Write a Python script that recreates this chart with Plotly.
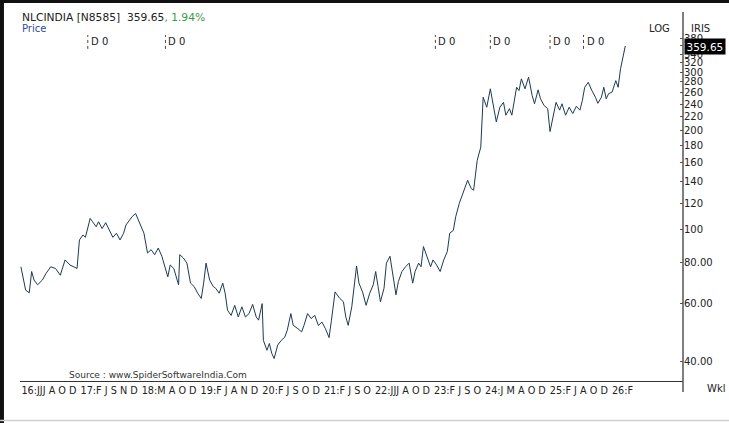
import numpy as np
import pandas as pd
import plotly.graph_objects as go

# ---------------- data ----------------
start_date = "2016-06-03"
weeks = [0, 2, 4, 7, 9, 11, 14, 18, 21, 25, 29, 33, 37, 41, 45, 47, 49, 52, 54, 58,
         60, 63, 65, 68, 71, 74, 77, 80, 83, 86, 88, 91, 93, 96, 99, 103, 106, 109, 112, 115,
         118, 121, 123, 125, 128, 132, 133, 136, 139, 142, 145, 148, 151, 153, 155, 158, 161, 163, 166, 169,
         171, 173, 176, 179, 182, 185, 188, 191, 194, 197, 199, 202, 203, 206, 208, 210, 212, 215, 218, 221,
         223, 226, 228, 232, 235, 237, 240, 243, 246, 249, 252, 255, 258, 260, 262, 263, 267, 270, 272, 274,
         277, 279, 281, 283, 286, 289, 292, 295, 297, 299, 301, 304, 306, 309, 311, 314, 316, 319, 322, 325,
         328, 330, 333, 335, 337, 339, 341, 343, 345, 348, 351, 354, 357, 359, 362, 364, 367, 370, 372, 374,
         377, 379, 382, 385, 387, 390, 393, 396, 398, 401, 404, 406, 409, 411, 415, 417, 419, 422, 425, 428,
         430, 433, 435, 438, 441, 443, 446, 448, 451, 453, 456, 459, 462, 465, 468, 470, 472, 475, 478, 481,
         483, 486, 488, 490, 492, 495, 498, 500, 502, 504, 506]
prices = [77.4, 71.4, 65.8, 64.6, 74.9, 70.6, 68.3, 70.6, 73.9, 77.4, 76.5, 73.0, 81.2, 78.4, 77.4, 76.5, 93.3, 96.6, 95.0, 108.4,
          105.9, 102.3, 105.9, 101.0, 105.2, 99.7, 95.0, 97.8, 93.3, 97.8, 103.5, 107.1, 109.6, 112.2, 105.9, 97.8, 85.2, 87.2, 84.2, 88.2,
          83.3, 76.5, 72.2, 78.4, 76.5, 68.3, 84.2, 82.3, 79.4, 69.1, 67.5, 64.4, 62.1, 69.1, 79.4, 70.6, 67.5, 66.7, 64.4, 69.1,
          64.4, 57.2, 55.2, 59.2, 54.6, 58.6, 54.6, 55.9, 59.6, 54.6, 53.4, 59.9, 46.4, 43.3, 45.4, 42.4, 40.9, 44.9, 46.4, 47.5,
          49.8, 55.9, 51.5, 50.3, 49.2, 51.5, 55.9, 54.0, 55.2, 51.5, 52.7, 50.3, 47.3, 53.4, 61.4, 65.0, 62.1, 60.7, 54.6, 51.5,
          58.6, 67.5, 77.8, 69.1, 65.0, 59.2, 64.4, 68.3, 74.9, 67.5, 60.7, 66.7, 79.4, 83.3, 75.7, 63.7, 69.8, 74.9, 77.4, 79.4,
          69.1, 74.9, 79.4, 77.4, 89.1, 85.2, 81.2, 77.4, 81.2, 78.4, 74.9, 81.2, 86.1, 97.8, 99.7, 109.6, 120.3, 128.9, 133.4, 141.3,
          133.4, 131.9, 162.2, 178.0, 251.8, 234.9, 267.0, 234.9, 212.1, 234.9, 243.0, 222.2, 232.6, 222.2, 269.9, 263.7, 286.2, 267.0, 289.6, 255.1,
          240.6, 265.1, 249.1, 237.8, 232.6, 198.3, 224.8, 243.0, 230.2, 240.6, 222.2, 234.9, 224.8, 236.4, 230.2, 245.8, 269.9, 279.4, 263.7, 251.8,
          241.4, 251.8, 269.9, 249.1, 258.0, 261.1, 282.7, 269.9, 306.9, 332.8, 359.65]

x_tick_weeks = [0, 49.5, 100.7, 150.0, 201.7, 253.3, 296.0, 345.4, 388.1, 442.4, 494.4]
x_tick_labels = ["16:JJJ A O D", "17:F J S N D", "18:M A O D", "19:F J A N D", "20:F J S O D",
                 "21:F J S O", "22:JJJ A O D", "23:F J S O", "24:J M A O D", "25:F J A O D", "26:F"]

y_tick_vals = [40, 60, 80, 100, 120, 140, 160, 180, 200, 220, 240, 260, 280, 300, 320, 340, 360, 380]
y_tick_labels = ["40.00", "60.00", "80.00", "100", "120", "140", "160", "180", "200", "220",
                 "240", "260", "280", "300", "320", "340", "360", "380"]

div_weeks = [56, 121, 347, 393, 443, 471]
div_labels = ["D 0", "D 0", "D 0", "D 0", "D 0", "D 0"]

symbol = "NLCINDIA [N8585]"
last_price = 359.65
change_pct = "1.94%"

# ---------------- figure ----------------
t0 = pd.Timestamp(start_date)
def wk(w):
    return t0 + pd.to_timedelta(np.asarray(w, dtype=float) * 7, unit="D")

dates = wk(weeks)
FONT = "DejaVu Sans"

fig = go.Figure()
fig.add_trace(go.Scatter(x=dates, y=prices, mode="lines",
                         line=dict(color="#1d3a52", width=1), hoverinfo="skip", showlegend=False))

fig.update_layout(
    width=729, height=423,
    margin=dict(l=20, r=46, t=12, b=42, autoexpand=False),
    paper_bgcolor="white", plot_bgcolor="white",
    font=dict(family=FONT, size=10, color="#222"),
    xaxis=dict(type="date", range=list(wk([-0.75, 554.3])), showgrid=False, zeroline=False,
               showline=True, linecolor="#333", linewidth=1, ticks="",
               tickvals=list(wk(x_tick_weeks)), ticktext=x_tick_labels, tickangle=0,
               ticklabelposition="outside right", tickfont=dict(size=9.7, color="#222"),
               automargin=False, fixedrange=True),
    yaxis=dict(type="log", side="right", range=[1.5437, 2.6586], showgrid=False, zeroline=False,
               showline=False, tickvals=y_tick_vals, ticktext=y_tick_labels,
               ticks="inside", ticklen=3, tickcolor="#555", tickfont=dict(size=10, color="#222"),
               automargin=False, fixedrange=True),
)

shapes = []
# axis line on right extends below plot
shapes.append(dict(type="line", xref="paper", yref="paper", x0=1, x1=1, y0=-0.03, y1=1.0,
                   line=dict(color="#555", width=1.5)))
# dark frame edges of the captured window (drawn as thick lines in paper space)
shapes.append(dict(type="line", xref="paper", yref="paper", x0=-0.0272, x1=-0.0272, y0=-0.115, y1=1.04,
                   line=dict(color="#111", width=4)))
shapes.append(dict(type="line", xref="paper", yref="paper", x0=-0.03, x1=1.07, y0=1.0285, y1=1.0285,
                   line=dict(color="#111", width=3)))
shapes.append(dict(type="line", xref="paper", yref="paper", x0=-0.03, x1=1.07, y0=-0.1070, y1=-0.1070,
                   line=dict(color="#d0d0d0", width=1.5)))
for w in div_weeks:
    shapes.append(dict(type="line", xref="x", yref="paper", x0=wk([w])[0], x1=wk([w])[0],
                       y0=0.90, y1=0.9377, line=dict(color="#444", width=1, dash="dot")))
fig.update_layout(shapes=shapes)

ann = []
ann.append(dict(xref="paper", yref="paper", x=0, y=0.986, xanchor="left", yanchor="middle", showarrow=False,
                text=f"{symbol}  {last_price:.2f}<span style='color:#3a9a48'>, {change_pct}</span>",
                font=dict(size=10.7, color="#222")))
ann.append(dict(xref="paper", yref="paper", x=0, y=0.956, xanchor="left", yanchor="middle", showarrow=False,
                text="Price", font=dict(size=10, color="#2b4f9e")))
for w, t in zip(div_weeks, div_labels):
    ann.append(dict(xref="x", yref="paper", x=wk([w])[0], y=0.919, xanchor="left", yanchor="middle",
                    xshift=1, showarrow=False, text=t, font=dict(size=10, color="#222")))
ann.append(dict(xref="paper", yref="paper", x=0.965, y=0.956, xanchor="center", yanchor="middle",
                showarrow=False, text="LOG", font=dict(size=10, color="#222")))
ann.append(dict(xref="paper", yref="paper", x=1.027, y=0.956, xanchor="center", yanchor="middle",
                showarrow=False, text="IRIS", font=dict(size=10, color="#222")))
ann.append(dict(xref="paper", yref="paper", x=1.05, y=-0.019, xanchor="center", yanchor="middle",
                showarrow=False, text="Wkl", font=dict(size=10, color="#222")))
ann.append(dict(xref="paper", yref="paper", x=0.0709, y=0.016, xanchor="left", yanchor="middle",
                showarrow=False, text="Source : www.SpiderSoftwareIndia.Com", font=dict(size=9, color="#333")))
ann.append(dict(xref="paper", yref="y", x=1.0015, y=np.log10(last_price), xanchor="left", yanchor="middle",
                showarrow=False, text=f"{last_price:.2f}", bgcolor="black", borderpad=1.5,
                font=dict(size=10.5, color="white")))
fig.update_layout(annotations=ann)

fig.write_html("out.html", config={"displayModeBar": False},
               post_script="document.body.style.margin='0';")
